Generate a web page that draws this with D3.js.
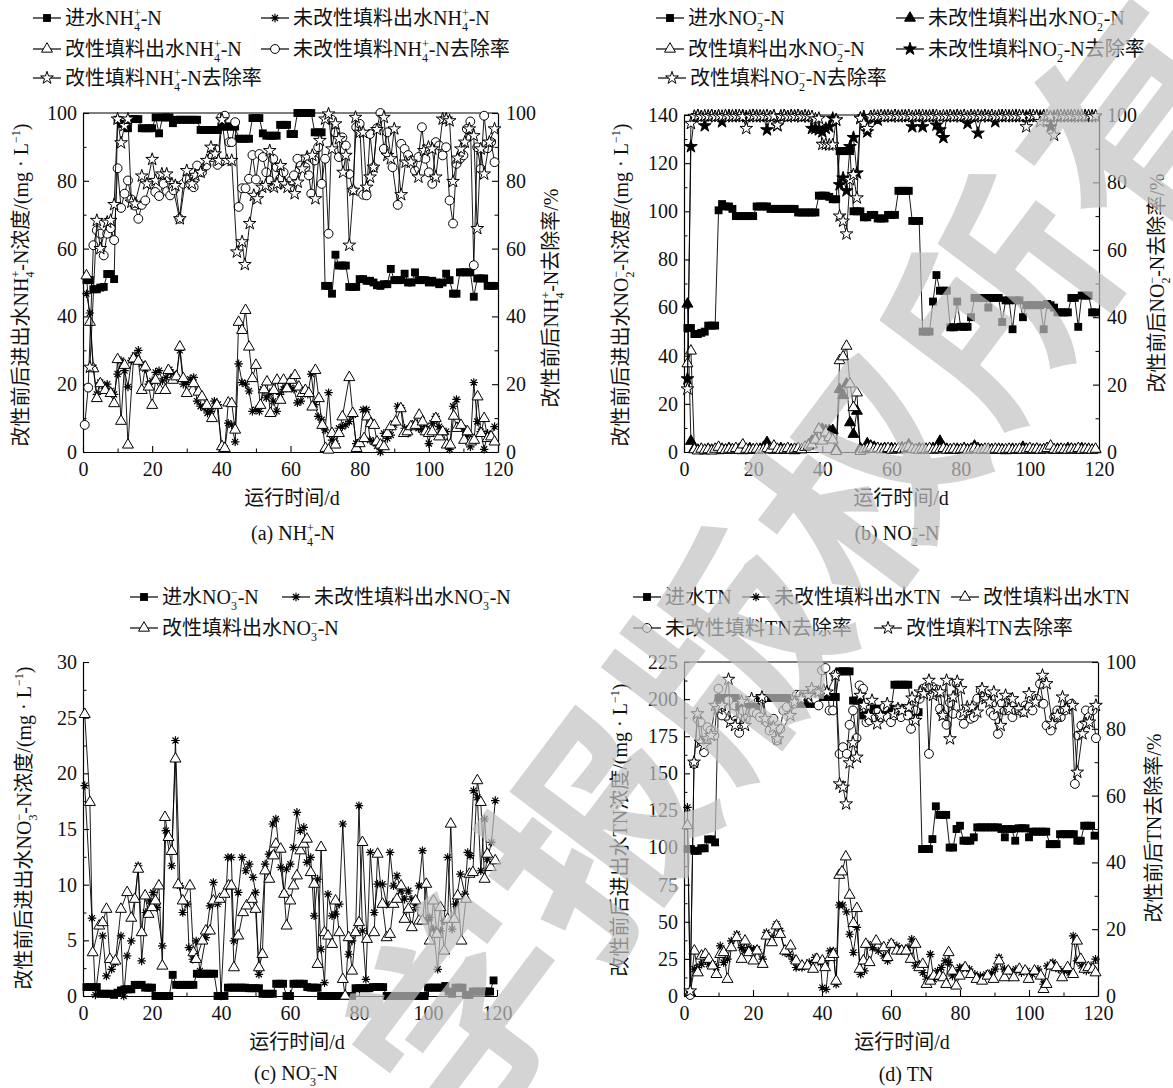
<!DOCTYPE html>
<html>
<head>
<meta charset="utf-8">
<script src="https://cdn.jsdelivr.net/npm/d3@7"></script>
<style>
  body { margin: 0; background: #fff; }
  svg { display: block; }
</style>
</head>
<body>
<script>
// ---------- data ----------
const days = [1,2,3,4,5,6,7,8,9,10,11,12,13,14,15,16,17,18,19,20,21,22,23,24,25,26,27,28,29,30,
  31,32,33,34,35,36,37,38,39,40,41,42,43,44,45,46,47,48,49,50,51,52,53,54,55,56,57,58,59,60,
  61,62,63,64,65,66,67,68,69,70,71,72,73,74,75,76,77,78,79,80,81,82,83,84,85,86,87,88,89,90,
  91,92,93,94,95,96,97,98,99,100,101,102,103,104,105,106,107,108,109,110,111,112,113,114,115,116,117,118,119];
const xTicks = [0,20,40,60,80,100,120];
const xMinorTicks = [10,30,50,70,90,110];

// (a) NH4+-N
const nh4In = [50.7,50.7,48,48,48.5,48.7,52.5,52.5,51,98, 96.8,96.8,95.5,98.2,98.2,98.2,95.5,95.5,95.5,95.5,
  98.7,94,98.7,98.7,98.7,97,98,98,98,98, 98,98,98,95,95,95,95,95,95,96,
  96,96,96,96,92.4,92.4,92.4,92.4,98.5,98.5, 98.5,94,93.3,93.3,93.3,93.3,96.5,96.5,96.5,93.8,
  93.8,100,100,100,100,100,94.3,94.3,94.3,49, 49,46.7,58.2,55,55,55,48.7,48.7,48.7,51,
  51,50.5,50.5,50,49.2,49,49.5,49.5,54,50.7, 50.7,50.7,52.6,50,50,53,50.7,50.7,50.7,50,
  50.5,50,49.5,50,52.6,50.7,46.7,46.7,53,53, 53,53,45.8,51.2,51.2,51.2,49,49,49];
const nh4OutRaw = [[1,46.7],[2,41],[3,24.8],[4,17],[5,20.5],[6,19.5],[7,20],[8,18],[9,17],[10,23],[11,27],[12,24],[13,19.2],[14,27],[15,28.5],[16,30],[17,26],[18,24.5],[19,20],[20,21],[21,23.5],[22,24],[23,21],[24,22],[25,24.3],[26,23],[27,22],[28,30],[29,20],[30,20.5],[31,21.5],[32,22],[33,15],[34,13.5],[35,13],[36,11.5],[37,12],[38,15],[39,14],[40,1],[41,1],[42,8.5],[43,8],[44,3],[45,26],[46,20.5],[47,20],[48,18],[49,12],[50,12.5],[51,12],[52,18.5],[53,16],[54,17.5],[55,15],[56,12],[57,17],[58,18.5],[59,20.5],[60,19],[61,18.5],[62,14.5],[63,15],[64,17.5],[65,17],[66,23],[67,14],[68,10.5],[69,9.5],[70,6.5],[71,17.5],[72,3.5],[73,2.5],[74,7],[75,7.5],[76,8],[77,9],[78,11],[79,2.5],[80,3],[81,12.5],[82,12.5],[83,3.5],[84,3],[85,1.8],[86,0],[87,5.5],[88,4],[89,5],[90,8],[91,13.5],[92,13],[93,7],[94,5.5],[95,7.5],[96,8.5],[97,7],[98,6.5],[99,7.5],[100,2.5],[101,8.5],[102,10.5],[103,7.5],[104,6],[105,6],[106,0.8],[107,13.5],[108,15.5],[109,8],[110,7],[111,5],[112,1.5],[113,20.5],[114,9],[115,6],[116,0.8],[117,5.5],[118,4.5],[119,7.5]];
const nh4OutMod = [[1,52],[2,38.3],[3,24.6],[4,15.8],[5,20.2],[6.4,18.2],[8,17.3],[9,14.3],[10,27.3],[11,9.1],[12,25.6],[13,2.1],[14.6,27.5],[16,26.8],[17,18.2],[18,25.1],[19,19.2],[20,13.8],[21,21.2],[22.3,18.2],[23.8,18.2],[24.7,24.1],[26,21.2],[27,22.2],[28,31],[29,21.7],[30,17.3],[32,20.2],[33.4,17.7],[34.4,16.3],[35.8,13.8],[37.3,9.9],[38.7,13.8],[40.2,1.6],[41,1.1],[42,14.5],[43,14.3],[44,6.5],[45,38.3],[46,35.9],[47,41.8],[48,31],[49,21.7],[50,25.6],[51.3,13.8],[52.3,18.4],[53.2,20.7],[54.2,11.4],[55.2,18.2],[56.1,21.2],[57.1,15.3],[58,21.2],[59,18.7],[60.2,21.2],[61.3,22.6],[62.4,19.2],[63.4,17.3],[64.3,18.2],[65.3,17.3],[66.3,13.3],[67.2,24.1],[68.2,15.8],[69.2,7.9],[70.1,1.1],[71,0.6],[72,5.5],[73,2.1],[74,5.5],[75,10.4],[77,22],[78,11.4],[79.1,1.1],[80,2.5],[81.3,4],[82.2,10.4],[83.2,8.4],[84.2,7.9],[85,3],[86,2.1],[87,1.6],[88,5.5],[89,7.5],[90.4,8.9],[91.9,12.8],[92.8,5.5],[93.8,6],[94.8,7.5],[96.2,7.9],[97.2,10.9],[98.2,8.9],[99.1,6],[100,5.5],[101,6],[102,9.9],[103,4.5],[104,6],[105.2,2.1],[106.2,2.1],[107.2,10.6],[108.1,7],[109.3,7.9],[110.2,3.5],[111.2,6],[112.2,3],[113.1,3.5],[114.1,16.3],[115.1,5.5],[116,9.9],[117,4],[118,4.5],[119,3]];
const nh4RateRaw = [[0.5,8],[1.5,19],[3,61],[4,65.4],[5,64.4],[6,58],[7,64.4],[8,66],[9,62.5],[10,83.7],[11,72],[12,76.2],[13,80.1],[14,74.5],[15,72.7],[16,68.8],[17,72.9],[18,74.2],[19.4,79.1],[20.9,76.7],[22,75.5],[23.3,79.1],[24.3,76.9],[25.2,75.7],[26.2,77.2],[27.9,68.8],[29,79.1],[30,80.4],[31,79.1],[32,78.1],[33,84.5],[34.4,82.5],[35.7,84.5],[37.3,87],[38.3,89.4],[38.9,84.7],[40,98.7],[41,99.2],[42.3,91.4],[43,91.4],[44,97.3],[45,72.3],[46,77.8],[47,77.8],[48,80.6],[49,87.6],[50,80.4],[51,87.9],[52,87],[53,82.5],[54,80.1],[55,86.5],[56,84],[57,80.6],[58,82.5],[59,79.1],[60.2,80.1],[61,81.6],[62,86.5],[63,84.5],[64.3,84],[65.3,81.6],[66,76.2],[67,86],[68,89.9],[69,79.1],[70,86.5],[71,64.4],[72,98],[73,94.3],[74,87],[75,92.8],[76,90.4],[77,82],[78,77.2],[79,95.8],[80,96.8],[81,75.9],[82,75.7],[83,93.8],[84,84],[85,95.5],[86,100],[87,89.4],[88,94.3],[89.5,84],[91,72.9],[92,90.9],[93,89.4],[94,87.6],[95,86],[96,83],[97,87],[98,95.8],[99,86.5],[100,82.5],[101,79.1],[102,91.4],[103,90.4],[104,87.5],[105,89.9],[106,74.2],[107,67.4],[108,85],[109,86.5],[110,87.5],[111,95.3],[112,97.5],[113,55.1],[114,89.9],[115,83.5],[116,99.2],[117,89.6],[118,91.4],[119,85.5]];
const nh4RateMod = [[2,25],[4,68.3],[5,60],[7,67.8],[8,68.3],[9,73],[10,98.2],[11,91.2],[12,96.3],[13,98.2],[14,73.7],[15,73.2],[17,81.4],[18.5,79.1],[20,86.3],[21,80.1],[22.8,82],[24.2,82],[25.7,79.1],[26.7,78.6],[28,68.8],[30,83],[31.5,79.1],[32.5,81.6],[34,82.5],[35.8,86],[37,89.9],[38.2,87.9],[39.2,86],[40.2,98],[41.6,86],[43,86],[44.5,59],[46,62],[46.8,55.3],[48.2,67.4],[49.4,75.7],[50.4,74.7],[51.8,78.1],[52.8,78.6],[54,88.9],[55.2,78.1],[56.1,79.1],[57.1,84.5],[58.3,79.1],[59.2,78.1],[61.2,76.2],[62.1,79.6],[63.4,83.5],[64.8,87],[66.3,87.5],[67.2,74.7],[68.5,91.9],[70,98.2],[71,99.7],[72,89.4],[73,96.8],[74,92.4],[75.2,82.5],[76,87.5],[77,61],[78.2,77.2],[78.8,98.7],[80,94.3],[81,94.3],[82,78.1],[83,81.1],[84,84],[85,95.1],[87,98.7],[88,87.5],[89,86.5],[90,95.3],[92,75.9],[93.3,85.5],[94.8,85.5],[97,81.1],[98.6,88.9],[99.9,89.9],[101,89.4],[102,81.1],[104,98.2],[105,98.2],[106,97.7],[107,79.8],[108.3,86.7],[109.3,89.4],[110.4,91.4],[111.7,95.3],[113,93.3],[114,65.9],[115,89.4],[116,82],[117.5,91.4],[119,95.3]];

// (b) NO2--N
const no2In = [51.5,51.5,49,49,49.5,50,52.5,52.5,52.5,100.4, 103,102,102,101,98,98,98,98,98,98,
  102,102,102,102,101,101,101,101,101,101, 101,101,99.5,99.5,99.5,99.5,99.5,99.5,106.5,106.5,
  106.5,106,105,105,125,125,125,125,100,100, 100,97.5,97.5,98.5,98.5,97,97,97,98.5,98.5,
  98.5,108.5,108.5,108.5,108.5,96,96,96,50,50, 50,62.5,73.5,67,67,67,51.8,51.8,62.5,52,
  52,52,56,64,64,64,64,60,64,64, 64,54,63,63,51,63,63,56,61,61,
  61,61,61,51,61.5,61,60,58,58,58, 58,64,64,52,65,65,65,58,58];
const no2OutRaw = [61.5,4.5,1.5,0.8,1,0.5,1.2,0.8,1,0.6, 1.2,0.8,1.5,1,0.8,1.2,0.6,1,1.5,0.8,
  1,1.2,2,4,1.2,0.8,1,1.5,0.8,1.2, 1,0.6,1.5,1,2,3,4.6,5.5,9.5,9.5,
  9,9,9,1,26,23.5,28.3,12.2,7.4,17, 1.5,1,3.5,2.5,2,1.5,1.2,1.5,1,1.5,
  1.2,1,1.8,1.5,3,1.2,1,1.5,0.8,1.2, 1,1.5,1,4.5,2,1.2,0.8,1,1.2,0.8,
  1.5,1,1.2,2.5,1.5,1,0.8,1.2,1,0.8, 1.2,1,0.6,1,1.2,0.8,1,2,1.2,0.8,
  1,1.2,0.8,1,1.5,1,0.8,1.2,1,0.8, 1.5,1.2,1,0.8,1.5,1,1.2,0.8,1];
const no2OutMod = [36.7,42,1,0.5,1.2,0.8,1,0.5,1.2,2, 1,0.8,1.2,1,1.5,0.8,3,1.2,0.8,1,
  1.2,0.8,1,1.5,1,2.5,1.2,0.8,1,1.5, 0.8,1.2,1.5,1,2,2.5,3,5,9.5,4.6,
  8,6,5,0.3,38,39.6,44,28.3,18.5,24.6, 0.3,1,1.5,2,1.2,1.5,1,1.2,1.5,0.8,
  1.2,1.5,1,1.5,2,1.2,1,0.8,1.2,1, 1.5,0.8,1.2,1,1.5,0.8,1,1.2,0.8,1,
  1.2,0.8,1,1.5,1,0.8,1.2,1,0.8,1.2, 1,0.8,1,1.2,0.8,1,1.2,0.8,1,1.5,
  1,1.2,0.8,1,1.5,2.5,1,0.8,1.2,1, 0.8,1.2,1,1.5,0.8,1.2,1,0.8,1.2];
const no2RateRaw = [21.7,90.6,99.5,99.8,99.5,96.8,99.6,99.8,99.5,99.7, 98,99.6,99.8,99.5,99.7,99.6,99.8,99.5,99.6,99.8,
  99.7,99.5,99.6,95.6,99.5,99.7,96.8,99.6,99.8,99.5, 99.7,99.6,99.8,99.5,99.6,99.5,96,96,95.6,95,
  96,96.5,99,98.5,79.3,81.3,77.5,90.6,93.3,82.8, 99,99.5,95,99.5,99,98.5,99.5,99.7,99.6,99.5,
  99.8,99.6,99.5,99.7,99.6,96.5,99.5,99.7,96.5,99.6, 99.5,99.8,97,95.6,93.3,99.5,99.7,99.6,99.8,99.5,
  99.6,97.5,99.7,99.5,94.6,99.6,99.8,99.5,99.7,98, 99.6,99.8,99.5,99.7,99.6,99.8,99.5,99.7,99.6,99.8,
  99.5,99.7,99.6,99.8,99.5,96.5,99.6,99.8,99.5,99.7, 99.6,99.8,99.5,99.7,99.6,99.8,99.5,99.7,99.6];
const no2RateMod = [18.7,97.5,99.6,99.8,99.5,99.7,99.6,99.8,99.5,99.7, 99.6,99.8,99.5,99.7,99.6,99.8,99.5,96,99.6,99.8,
  99.5,99.7,99.6,99.8,99.5,99.7,97,99.6,99.8,99.5, 99.7,99.6,99.8,99.5,99.7,99.6,99.5,98.8,99,91.3,
  91.3,91.1,91.1,98.5,70,68.5,64.7,80.8,82.3,75.4, 99,97.5,96,99.5,99.7,99.6,99.8,99.5,99.7,99.6,
  99.8,99.5,99.7,99.6,99.8,99.5,99.7,99.6,99.8,99.5, 99.7,99.6,99.8,99.5,99.7,99.6,99.8,99.5,99.7,99.6,
  99.8,99.5,99.7,99.6,99.8,99.5,99.7,99.6,99.8,99.5, 99.7,99.6,99.8,99.5,99.7,99.6,99.8,99.5,96.5,99.6,
  99.8,99.5,98,99.6,99.8,99.5,94,99.6,99.8,99.5, 99.7,99.6,99.8,99.5,99.7,99.6,99.8,99.5,99.7];

// (c) NO3--N
const no3In = [0.8,0.8,0.8,0.8,0.2,0.2,0.2,0.2,0.1,0.3, 0.5,0.6,0.6,0.6,1,1,1,0.75,0.75,0.75,
  0,0,0,0,0,1.9,1,1,1,1, 1,1,2,2,2,2,2,2,0,0,
  0,0.75,0.75,0.75,0.75,0.75,0.75,0.7,0.7,0.7, 0.7,0.2,0.2,0.2,0.2,1.1,1.1,1.1,0,0,
  1.1,1.1,1.1,1.1,0.8,0.75,0.75,0.75,0,0, 0,0,0,0,0,0,0,0,0.7,0.7,
  0.7,0.7,0.7,0.8,0.8,0.8,0.8,0,0,0, 0,0,0,0,0,0,0,0,0,0.75,
  0.75,0.75,0.75,0.75,0.9,0.4,0.2,0.75,0.75,0.75, 0.1,0.1,0.4,0.4,0.4,0.4,0.4,0.4,1.4];
const no3OutRaw = [[0.5,18.9],[2.6,7],[3.6,0.1],[5.7,5.4],[6.8,1.8],[8.3,2.4],[9.4,3],[11,5.4],[11.8,0],[12.8,3.6],[14,4.95],[16,11.7],[17,3.15],[18.2,7.5],[19.3,8.55],[20.3,9.3],[21.4,7.95],[23,4.5],[24,14.85],[25.7,11.7],[26.8,22.95],[28.1,9.9],[28.9,7.5],[30.2,8.25],[30.7,4.35],[31.8,3.3],[32.8,4.95],[33.9,2.25],[35.6,5.25],[36.8,8.1],[37.8,10.2],[39,8.25],[40,0],[42,12.45],[43,12.45],[43.75,4.95],[45,9.3],[46.1,12.45],[47.2,11.25],[48.2,11.85],[49.3,10.65],[50,9.3],[51,1.95],[52.8,11.85],[53.9,12.75],[55,15.45],[55.9,15.9],[57.3,11.55],[58.3,9.15],[59,11.4],[60.1,11.85],[61,13.35],[62,16.5],[63,14.85],[64,15.15],[64.9,12],[66,12.45],[67,7.2],[68,10.5],[69,4.2],[70,1.2],[71,9.15],[72.2,7.2],[73.2,7.35],[74.3,8.25],[75.3,15.45],[77,3.75],[78,4.95],[79,5.7],[80,17.1],[81,5.85],[82,1.5],[83.3,12.9],[84.4,7.5],[85.4,10.05],[86.8,10.05],[88,8.25],[89,12.9],[90,9.9],[91,10.8],[92.2,9.45],[93.2,8.7],[94.3,9.45],[95.3,8.7],[96.4,7.95],[97.4,9.9],[98.4,13.05],[99.5,6.75],[100.5,7.05],[101.6,6],[102.8,2.4],[103.6,5.85],[104.7,6.75],[105.7,12.45],[107,6],[108,8.25],[109.4,10.95],[110.7,9.15],[111.5,12.9],[112.2,12.6],[113.2,18.45],[114.3,17.85],[115.3,11.25],[116.4,15.9],[117.2,12.3],[118.4,13.8],[119.5,17.55]];
const no3OutMod = [[0.5,25.3],[2,17.4],[2.8,3.9],[4.7,6.3],[5.7,6.6],[6.8,7.8],[7.8,3.3],[9.4,3.15],[11,7.8],[12.8,9.3],[14,7],[15,8.7],[16,11.4],[17,5.7],[18,9],[19,7.35],[20,7.95],[21,8.55],[22,9.9],[23,2.7],[23.75,16.05],[24.8,14.25],[25.7,13],[26.8,21.3],[27.6,10],[28.9,8.55],[31,9.9],[32,3.9],[32.8,3.3],[34.6,4.95],[35.6,5.85],[36.8,5.85],[37.8,8.55],[39.6,8.7],[41,9.15],[42.2,9.9],[43,9.9],[43.75,2.55],[45,5.4],[46.4,7.5],[47.4,8.1],[49,8.7],[50,7.8],[51,2.55],[52,3.75],[52.8,11.25],[54,10.5],[55.2,12.6],[55.9,13.65],[57.3,13.2],[58.3,9.15],[59,6.3],[60.1,8.55],[61,9.9],[62,10.8],[63,13.05],[64,13.65],[64.9,14.1],[66,11.1],[67,10.05],[68,2.85],[69,13.35],[70,5.7],[71,5.4],[72.2,4.65],[73.2,8.55],[74.3,5.7],[75.3,1.5],[76,0],[77,5.25],[78,2.25],[79,5.7],[80,6.6],[81,13.8],[82.3,5.1],[84.4,5.7],[85.4,12.75],[86.8,8.25],[88,5.25],[89,5.55],[90,8.25],[91,8.7],[92.2,9.9],[93.2,6.9],[94.3,7.8],[95.3,6.15],[96.4,8.55],[97.4,6.75],[98.4,6.75],[99.5,10.05],[100.5,4.95],[101.6,8.55],[102.6,5.55],[103.6,7.95],[104.7,4.05],[105.7,6.9],[106.6,15.45],[107.6,6.9],[108.6,9],[109.7,4.95],[111,8.7],[112,10.95],[113,11.1],[114.3,19.35],[115.3,17.4],[116.4,10.5],[117.2,12.75],[118.2,11.55],[119.5,12.15]];

// (d) TN
const tnIn = [99,99,97.8,97.8,99.5,99.5,105.5,105.5,103.5,200.7, 200.7,200.7,200.7,200.7,200.7,194.6,194.6,194.6,194.6,194.6,
  194.6,200.7,200.7,200.7,200.7,200.7,200.7,200.7,200.7,200.7, 196.9,196.9,196.9,196.9,196.9,196.9,196.9,196.9,201.4,201.4,
  201.4,201.4,201.4,201.4,218.7,218.7,218.7,218.7,199,199, 199,189,189,189,193.5,193.5,193.5,193.5,193.5,193.5,
  209.7,209.7,209.7,209.7,209.7,191.2,191.2,191.2,99,99, 99,105.7,127.8,122,122,122,100,100,112.5,114.7,
  104.6,104.6,104.6,106.9,113.6,113.6,113.6,113.6,113.6,113.6, 113.6,112.5,106.9,112.5,112.5,104.6,113,113,113,106.9,
  110.7,110.7,110.7,110.7,110.7,102.3,102.3,102.3,109,109, 109,109,109,104.6,104.6,114.7,114.7,114.7,108];
const tnOutRaw = [[1,127.1],[1.8,2.9],[3,18.1],[4,19.2],[5.1,21.4],[6.2,23.7],[7.2,21.4],[8.3,21.4],[9.4,19.2],[10.5,33.8],[11.5,22.6],[12.6,24.8],[13.7,37.1],[15.3,41.6],[16.7,32.6],[17.7,30.4],[18.8,32.6],[20.1,31.5],[21.2,31.5],[22.8,24.8],[23.9,42.8],[25.5,39.4],[26.8,48.4],[27.9,43.9],[29.3,29.3],[30.4,28.1],[31.5,24.8],[32.5,19.2],[34.2,19.2],[36.3,22.6],[38,26],[39.6,22.6],[40.1,5.6],[41.2,4.5],[42.3,30.4],[43.3,30.4],[44.1,7.9],[45,61.3],[46,61.3],[47.1,56.7],[48,41.6],[49.1,29.3],[50.1,46.2],[51.2,14.6],[52.3,16.9],[53.3,34.9],[54.6,32.6],[56.3,30.4],[57.9,27],[59,23.7],[60.1,36],[61.7,33.8],[63.3,31.5],[64.9,32.6],[66,38.3],[67.1,20.3],[68.2,21.4],[69.2,15.7],[70.3,11.3],[71.4,28.1],[72.4,11.3],[73.5,16.9],[74.6,19.2],[75.7,23.7],[76.7,22.6],[77.8,13.5],[78.9,15.7],[79.9,19.2],[81,19.2],[82.7,18.1],[84.3,14.6],[85.9,13.5],[87.6,14.6],[89.2,15.7],[90.2,18.1],[91.3,26],[92.9,18.1],[94.5,16.9],[96.2,18.1],[97.8,15.7],[99.4,16.9],[101,14.6],[102.6,18.1],[104.2,7.9],[105.3,20.3],[106.9,22.6],[108.5,18.1],[110.2,16.9],[111.8,15.7],[112.8,40.5],[113.9,23.7],[115.2,20.3],[116.6,16.9],[118,20.3],[119.3,24.8]];
const tnOutMod = [[1,114.8],[1.8,2.2],[3,30.4],[4,15.7],[5.1,27],[6.2,28.1],[7.2,24.8],[8.3,20.3],[9.4,14.6],[10.5,28.1],[11.5,29.3],[12.6,11.3],[13.7,32.6],[15.3,39.4],[16.7,24.8],[17.7,37.1],[18.8,29.3],[20.1,23.7],[21.2,30.4],[22.8,21.4],[23.9,40.5],[25.5,36],[26.8,47.3],[27.9,41.6],[29.3,30.4],[30.9,33.8],[32.5,23.7],[34.2,20.3],[35.8,20.3],[37.4,18.1],[38.5,24.8],[40.1,23.7],[40.9,19.2],[42.3,26],[43.3,28.1],[44.1,10.1],[45,81.4],[45.8,83.7],[46.9,93.8],[48,68],[49.1,48.9],[50.1,59],[50.9,18.1],[52,23.7],[52.7,34.9],[53.8,22.6],[55.7,37.1],[57.9,32.6],[59,26],[60.1,34.9],[61.7,30.4],[63.1,30.4],[64.4,30.4],[65.7,24.8],[67.1,34.9],[68.2,19.2],[69.2,21.4],[70.3,7.9],[71.4,10.1],[72.4,13.5],[74.1,13.5],[75.1,12.4],[76,7.9],[76.7,29.3],[77.8,16.9],[78.9,6.8],[79.9,13.5],[81.5,19.2],[83.2,14.6],[84.8,11.3],[86.4,10.1],[88,13.5],[89.7,11.3],[91.3,23.7],[92.9,12.4],[94,16.9],[95.6,12.4],[97.2,18.1],[98.9,16.9],[99.9,11.3],[101.6,16.9],[103.4,13.5],[104.2,4.5],[105.1,7.9],[106.4,20.3],[108,19.2],[109.6,12.4],[111.2,19.2],[112.8,14.6],[113.9,37.1],[115,24.8],[116.1,18.1],[117.2,19.2],[118.5,18.1],[119.3,15.7]];
const tnRateRaw = [[1.8,0.3],[2.9,69.5],[3.9,83],[4.8,82],[5.8,73],[6.8,80.5],[7.7,79.5],[8.8,78],[10,92],[11,84],[12.9,88.5],[14,84.5],[15,82.5],[16,78.8],[17,85.5],[17.9,83],[19.2,85],[20.1,85],[21.1,84.5],[22,83.5],[23,89],[24,82],[24.8,79.5],[25.9,83],[26.9,76.5],[27.9,80],[28.8,85.5],[29.8,86.5],[31.8,87.5],[32.7,90.2],[33.7,90.2],[34.7,90.2],[35.6,90.2],[36.9,89],[38,89],[39,87],[40,97.5],[41,98.2],[42.2,85.5],[43.2,85.5],[43.9,96.2],[45.1,72.5],[46.1,74.5],[47.2,72.5],[48,81.2],[49,85.5],[50,77.2],[50.9,93],[51.9,92],[52.9,82],[53.8,82.5],[55,83.5],[56,85],[56.9,83.5],[58.1,86.5],[58.9,83.5],[60,82],[61,84],[62,86],[62.9,83.5],[63.9,86],[64.9,84],[65.8,80],[67.1,85.5],[68.3,89],[69.3,92],[70.3,92.5],[71,72.5],[72,92.5],[73.2,91.8],[74.2,86],[75.1,84.2],[76.1,81.2],[77.1,87.8],[78,84.5],[79,93.5],[80.2,84],[81.1,81.5],[82.1,85.5],[83.1,83],[84,83.5],[85,89],[86,91.5],[86.9,89.5],[87.9,89],[88.9,85],[89.8,84],[91,78.5],[92,87.5],[92.9,85.5],[94.2,85.5],[95.2,83.5],[96.1,85.5],[97.1,85.5],[98.1,85],[99,87],[100,86.5],[101,85.5],[102.2,89],[103.2,93.5],[104.2,87.5],[105.1,81],[106.3,79.5],[107.3,83.5],[108.2,85.5],[109.2,83.5],[110.4,85.5],[111.3,86.5],[112.3,87.5],[113.3,63.5],[114.2,78],[115.2,81],[116.5,85.5],[117.4,83.5],[118.4,85.5],[119.4,77.2]];
const tnRateMod = [[1.8,1.5],[2.9,70],[3.9,84.5],[4.8,76],[5.8,75],[6.8,77],[7.8,78],[9,87],[10,86],[11,87],[12.9,94.8],[13.4,82],[14.8,81],[16.7,88.2],[17.7,81],[19.6,89],[22.6,89.5],[23.5,83],[25.9,80.5],[27.1,77],[30.8,84],[32,88],[34,89],[36,90],[37,92],[39,91],[40.5,91.5],[41.4,91],[43.9,96],[45.1,63.5],[46.1,62.5],[47,57.5],[48,69.8],[49,75.8],[50.1,71.5],[51.1,90],[52.1,87],[53.5,84],[54.5,88.5],[56,81.5],[57,84],[58.9,87.5],[60.8,84.5],[62,86],[63.2,85.5],[65.2,86.5],[66.1,89.2],[67.1,82.5],[68.5,91],[69.5,90.5],[71,94.5],[72.2,90],[73.2,91],[74.3,91],[75,84],[76.1,94.5],[77.1,77],[78,89.5],[79.2,94.2],[80.2,92],[81,85],[82.1,86.5],[83.5,86.5],[85,85],[86.4,92],[87.4,89],[88.5,88],[89.8,91],[90.8,86],[91.8,81],[93.2,90],[94.2,86],[95.2,89],[97,86],[98.5,85],[100,90.5],[101.9,88],[103.9,96],[105.1,93.5],[106.8,81.5],[108.2,84],[109.7,89.5],[110.8,86],[112.6,87],[114,67],[115.5,78.5],[116.5,81.5],[117.5,82],[119.4,87]];

// ---------- drawing helpers ----------
const FONT = '"Liberation Serif","Noto Sans CJK SC",serif';
const FS = 20;
const svg = d3.select('body').append('svg')
  .attr('width', 1173).attr('height', 1088)
  .attr('font-family', FONT).attr('font-size', FS);

// eight-spoke asterisk marker
const symbolAsterisk = {
  draw(ctx, size) {
    const r = Math.sqrt(size) / 2;
    for (let k = 0; k < 4; k++) {
      const a = k * Math.PI / 4;
      ctx.moveTo(-r * Math.cos(a), -r * Math.sin(a));
      ctx.lineTo(r * Math.cos(a), r * Math.sin(a));
    }
  }
};
const MARKS = {
  sq:    { type: d3.symbolSquare,   size: 62, fill: '#000', stroke: 'none', sw: 0 },
  ast:   { type: symbolAsterisk,    size: 72, fill: 'none', stroke: '#000', sw: 1.2 },
  tri:   { type: d3.symbolTriangle, size: 52, fill: '#fff', stroke: '#000', sw: 1 },
  triF:  { type: d3.symbolTriangle, size: 52, fill: '#000', stroke: '#000', sw: 1 },
  circ:  { type: d3.symbolCircle,   size: 62, fill: '#fff', stroke: '#000', sw: 1 },
  star:  { type: d3.symbolStar,     size: 50, fill: '#fff', stroke: '#000', sw: 1 },
  starF: { type: d3.symbolStar,     size: 50, fill: '#000', stroke: '#000', sw: 1 }
};
function markPath(m) { return d3.symbol().type(MARKS[m].type).size(MARKS[m].size)(); }

// text with simple _{sub} and ^{sup} markup; a sup right after a sub is stacked over it
function rich(textSel, str, fs) {
  const parts = str.split(/(_\{[^}]*\}|\^\{[^}]*\})/).filter(s => s !== '');
  let off = 0, prevSub = null;
  const small = fs * 0.6;
  parts.forEach(p => {
    if (p.startsWith('_{')) {
      const t = p.slice(2, -1);
      textSel.append('tspan').attr('font-size', small).attr('dy', fs * 0.3 - off).text(t);
      off = fs * 0.3; prevSub = t;
    } else if (p.startsWith('^{')) {
      const t = p.slice(2, -1);
      const ts = textSel.append('tspan').attr('font-size', small).attr('dy', -fs * 0.4 - off).text(t);
      if (prevSub) ts.attr('dx', -prevSub.length * small * 0.5);
      off = -fs * 0.4; prevSub = null;
    } else {
      textSel.append('tspan').attr('dy', -off).text(p);
      off = 0; prevSub = null;
    }
  });
}
function label(parent, str, x, y, opt = {}) {
  const t = parent.append('text').attr('x', x).attr('y', y)
    .attr('text-anchor', opt.anchor || 'start').attr('fill', '#111');
  if (opt.rotate) t.attr('transform', `rotate(${opt.rotate},${x},${y})`);
  rich(t, str, FS);
  return t;
}
function styleAxis(sel) {
  sel.attr('font-family', FONT).attr('font-size', FS);
  sel.select('.domain').attr('stroke', '#000').attr('stroke-width', 1.2);
  sel.selectAll('.tick line').attr('stroke', '#000').attr('stroke-width', 1.1);
  sel.selectAll('.tick text').attr('fill', '#111');
}
function minorAxis(sel) { sel.select('.domain').remove(); sel.selectAll('.tick line').attr('stroke', '#000').attr('stroke-width', 1); }

function panel(p) {
  const g = svg.append('g');
  const x = d3.scaleLinear().domain([0, 120]).range([p.x0, p.x1]);
  const yL = d3.scaleLinear().domain([0, p.yMax]).range([p.yb, p.yt]);
  const yR = d3.scaleLinear().domain([0, 100]).range([p.yb, p.yt]);

  // axes (ticks point inward)
  g.append('g').attr('transform', `translate(0,${p.yb})`)
    .call(d3.axisBottom(x).tickValues(xTicks).tickSizeInner(-6).tickSizeOuter(0).tickPadding(10)).call(styleAxis);
  g.append('g').attr('transform', `translate(0,${p.yb})`)
    .call(d3.axisBottom(x).tickValues(xMinorTicks).tickSizeInner(-3.5).tickSizeOuter(0).tickFormat('')).call(minorAxis);
  g.append('g').attr('transform', `translate(${p.x0},0)`)
    .call(d3.axisLeft(yL).tickValues(p.yTicks).tickSizeInner(-6).tickSizeOuter(0).tickPadding(6)).call(styleAxis);
  g.append('g').attr('transform', `translate(${p.x0},0)`)
    .call(d3.axisLeft(yL).tickValues(p.yMinor).tickSizeInner(-3.5).tickSizeOuter(0).tickFormat('')).call(minorAxis);
  if (p.right) {
    const rT = [0, 20, 40, 60, 80, 100], rM = [10, 30, 50, 70, 90];
    g.append('g').attr('transform', `translate(${p.x1},0)`)
      .call(d3.axisRight(yR).tickValues(rT).tickSizeInner(-6).tickSizeOuter(0).tickPadding(8)).call(styleAxis);
    g.append('g').attr('transform', `translate(${p.x1},0)`)
      .call(d3.axisRight(yR).tickValues(rM).tickSizeInner(-3.5).tickSizeOuter(0).tickFormat('')).call(minorAxis);
    g.append('line').attr('x1', p.x0).attr('x2', p.x1).attr('y1', p.yt).attr('y2', p.yt)
      .attr('stroke', '#000').attr('stroke-width', 1.2);
  }

  // series: connecting line, then markers
  p.series.forEach(s => {
    const y = s.right ? yR : yL;
    const line = d3.line().x(d => x(d[0])).y(d => y(d[1]));
    g.append('path').attr('d', line(s.data)).attr('fill', 'none')
      .attr('stroke', '#000').attr('stroke-width', 0.9);
    const m = MARKS[s.mark];
    g.append('g').selectAll('path').data(s.data).join('path')
      .attr('transform', d => `translate(${x(d[0])},${y(d[1])})`)
      .attr('d', markPath(s.mark))
      .attr('fill', m.fill).attr('stroke', m.stroke).attr('stroke-width', m.sw);
  });

  // legend
  p.legend.forEach(l => {
    const s = p.series[l.i];
    const lg = g.append('g');
    lg.append('line').attr('x1', l.x).attr('x2', l.x + 28).attr('y1', l.y).attr('y2', l.y)
      .attr('stroke', '#000').attr('stroke-width', 1.2);
    const m = MARKS[s.mark];
    lg.append('path').attr('transform', `translate(${l.x + 14},${l.y})`).attr('d', markPath(s.mark))
      .attr('fill', m.fill).attr('stroke', m.stroke).attr('stroke-width', m.sw);
    label(lg, s.name, l.x + 32, l.y + 7);
  });

  // titles
  label(g, p.yTitle, p.yTitleX, p.yTitleY, { anchor: 'middle', rotate: -90 });
  if (p.rTitle) label(g, p.rTitle, p.rTitleX, p.rTitleY, { anchor: 'middle', rotate: -90 });
  label(g, '运行时间/d', p.xTitleX, p.xTitleY, { anchor: 'middle' });
  label(g, p.caption, p.capX, p.capY, { anchor: 'middle' });
}
const byDay = vals => days.map((d, i) => [d, vals[i]]);

// ---------- panels ----------
panel({
  x0: 83, x1: 498, yt: 113, yb: 452, yMax: 100, right: true,
  yTicks: [0, 20, 40, 60, 80, 100], yMinor: [10, 30, 50, 70, 90],
  series: [
    { name: '进水NH_{4}^{+}-N', mark: 'sq', data: byDay(nh4In) },
    { name: '未改性填料出水NH_{4}^{+}-N', mark: 'ast', data: nh4OutRaw },
    { name: '改性填料出水NH_{4}^{+}-N', mark: 'tri', data: nh4OutMod },
    { name: '未改性填料NH_{4}^{+}-N去除率', mark: 'circ', data: nh4RateRaw, right: true },
    { name: '改性填料NH_{4}^{+}-N去除率', mark: 'star', data: nh4RateMod, right: true }
  ],
  legend: [{ i: 0, x: 33, y: 18 }, { i: 1, x: 261, y: 18 }, { i: 2, x: 33, y: 49 },
           { i: 3, x: 261, y: 49 }, { i: 4, x: 33, y: 78 }],
  yTitle: '改性前后进出水NH_{4}^{+}-N浓度/(mg · L^{−1})', yTitleX: 28, yTitleY: 285,
  rTitle: '改性前后NH_{4}^{+}-N去除率/%', rTitleX: 558, rTitleY: 298,
  xTitleX: 292, xTitleY: 505, caption: '(a) NH_{4}^{+}-N', capX: 293, capY: 540
});

panel({
  x0: 684, x1: 1099, yt: 115, yb: 452, yMax: 140, right: true,
  yTicks: [0, 20, 40, 60, 80, 100, 120, 140], yMinor: [10, 30, 50, 70, 90, 110, 130],
  series: [
    { name: '进水NO_{2}^{−}-N', mark: 'sq', data: byDay(no2In) },
    { name: '未改性填料出水NO_{2}^{−}-N', mark: 'triF', data: byDay(no2OutRaw) },
    { name: '改性填料出水NO_{2}^{−}-N', mark: 'tri', data: byDay(no2OutMod) },
    { name: '未改性填料NO_{2}^{−}-N去除率', mark: 'starF', data: byDay(no2RateRaw), right: true },
    { name: '改性填料NO_{2}^{−}-N去除率', mark: 'star', data: byDay(no2RateMod), right: true }
  ],
  legend: [{ i: 0, x: 656, y: 18 }, { i: 1, x: 896, y: 18 }, { i: 2, x: 656, y: 49 },
           { i: 3, x: 896, y: 49 }, { i: 4, x: 658, y: 78 }],
  yTitle: '改性前后进出水NO_{2}^{−}-N浓度/(mg · L^{−1})', yTitleX: 628, yTitleY: 285,
  rTitle: '改性前后NO_{2}^{−}-N去除率/%', rTitleX: 1164, rTitleY: 283,
  xTitleX: 901, xTitleY: 505, caption: '(b) NO_{2}^{−}-N', capX: 897, capY: 540
});

panel({
  x0: 83, x1: 497, yt: 662, yb: 996, yMax: 30, right: false,
  yTicks: [0, 5, 10, 15, 20, 25, 30], yMinor: [2.5, 7.5, 12.5, 17.5, 22.5, 27.5],
  series: [
    { name: '进水NO_{3}^{−}-N', mark: 'sq', data: byDay(no3In) },
    { name: '未改性填料出水NO_{3}^{−}-N', mark: 'ast', data: no3OutRaw },
    { name: '改性填料出水NO_{3}^{−}-N', mark: 'tri', data: no3OutMod }
  ],
  legend: [{ i: 0, x: 130, y: 597 }, { i: 1, x: 282, y: 597 }, { i: 2, x: 130, y: 628 }],
  yTitle: '改性前后进出水NO_{3}^{−}-N浓度/(mg · L^{−1})', yTitleX: 31, yTitleY: 828,
  xTitleX: 297, xTitleY: 1049, caption: '(c) NO_{3}^{−}-N', capX: 296, capY: 1080
});

panel({
  x0: 684, x1: 1098, yt: 662, yb: 996, yMax: 225, right: true,
  yTicks: [0, 25, 50, 75, 100, 125, 150, 175, 200, 225],
  yMinor: [12.5, 37.5, 62.5, 87.5, 112.5, 137.5, 162.5, 187.5, 212.5],
  series: [
    { name: '进水TN', mark: 'sq', data: byDay(tnIn) },
    { name: '未改性填料出水TN', mark: 'ast', data: tnOutRaw },
    { name: '改性填料出水TN', mark: 'tri', data: tnOutMod },
    { name: '未改性填料TN去除率', mark: 'circ', data: tnRateRaw, right: true },
    { name: '改性填料TN去除率', mark: 'star', data: tnRateMod, right: true }
  ],
  legend: [{ i: 0, x: 633, y: 597 }, { i: 1, x: 742, y: 597 }, { i: 2, x: 951, y: 597 },
           { i: 3, x: 633, y: 628 }, { i: 4, x: 874, y: 628 }],
  yTitle: '改性前后进出水TN浓度/(mg · L^{−1})', yTitleX: 627, yTitleY: 830,
  rTitle: '改性前后TN去除率/%', rTitleX: 1161, rTitleY: 828,
  xTitleX: 902, xTitleY: 1049, caption: '(d) TN', capX: 906, capY: 1081
});

// publisher watermark laid over the figure
svg.append('text')
  .attr('transform', 'translate(790,555) rotate(-53)')
  .attr('text-anchor', 'middle').attr('dominant-baseline', 'central')
  .attr('font-family', '"Noto Sans CJK SC",sans-serif').attr('font-weight', 700)
  .attr('font-size', 215).attr('letter-spacing', 8)
  .attr('fill', '#c2c2c2').attr('opacity', 0.7)
  .text('学报版权所有');
</script>
</body>
</html>
